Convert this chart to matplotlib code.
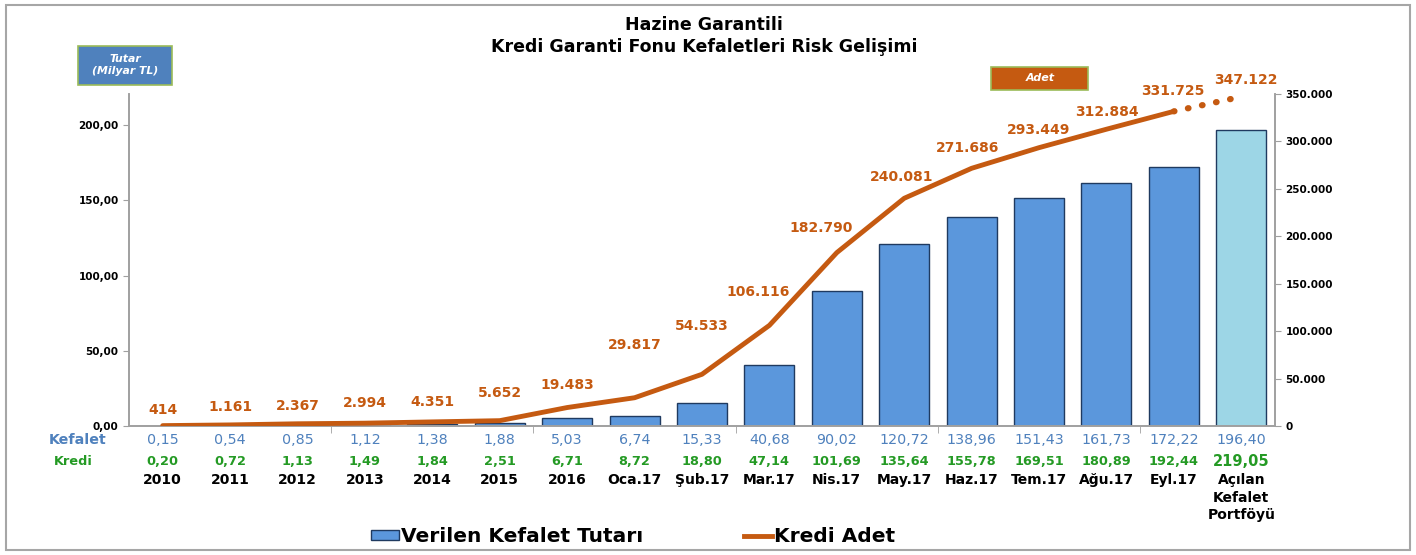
import matplotlib
matplotlib.use("Agg")
import matplotlib.pyplot as plt
from matplotlib.patches import Rectangle, Patch
from matplotlib.lines import Line2D
from matplotlib.ticker import FuncFormatter, FixedLocator
import matplotlib.transforms as mtransforms

plt.rcParams['font.family'] = ['DejaVu Sans']

# data
categories = ["2010", "2011", "2012", "2013", "2014", "2015", "2016", "Oca.17",
              "Şub.17", "Mar.17", "Nis.17", "May.17", "Haz.17", "Tem.17",
              "Ağu.17", "Eyl.17", "Açılan\nKefalet\nPortföyü"]
kefalet = [0.15, 0.54, 0.85, 1.12, 1.38, 1.88, 5.03, 6.74, 15.33, 40.68,
           90.02, 120.72, 138.96, 151.43, 161.73, 172.22, 196.40]
kredi = [0.20, 0.72, 1.13, 1.49, 1.84, 2.51, 6.71, 8.72, 18.80, 47.14,
         101.69, 135.64, 155.78, 169.51, 180.89, 192.44, 219.05]
kredi_adet = [414, 1161, 2367, 2994, 4351, 5652, 19483, 29817, 54533, 106116,
              182790, 240081, 271686, 293449, 312884, 331725, 347122]

# label offsets (points) for the Adet labels
label_dx = [0, 0, 0, 0, 0, 0, 0, 0, 0, -8, -11.5, -2, -3, 0, 0, -1, 3.5]
label_dy = [11, 13, 13, 14.5, 14.5, 20, 16, 38, 35, 24, 18, 15, 14.5, 12.7, 12.5, 15, 12]

BLUE = "#5B97DC"
CYAN = "#9DD6E6"
ORANGE = "#C55A11"
TXT_BLUE = "#4F81BD"
TXT_GREEN = "#249A24"

fig = plt.figure(figsize=(14.16, 5.55), dpi=100)
ax = fig.add_axes([0.0911, 0.2324, 0.8093, 0.5982])
ax2 = ax.twinx()

n = len(categories)
x = list(range(n))
colors = [BLUE] * (n - 1) + [CYAN]
ax.bar(x, kefalet, width=0.74, color=colors, edgecolor="#1F3A60", linewidth=1.0, zorder=2)

ax.set_xlim(-0.5, n - 0.5)
ax.set_ylim(0, 220.6)
ax.yaxis.set_major_locator(FixedLocator([0, 50, 100, 150, 200]))
ax.yaxis.set_major_formatter(FuncFormatter(lambda v, p: f"{v:.2f}".replace(".", ",")))
ax.set_xticks([])
ax.set_xticks([-0.5 + 3 * k for k in range(1, 6)], minor=True)
ax.tick_params(axis="x", which="minor", length=5, color="#A0A0A0")
ax.tick_params(axis="y", labelsize=7.5, length=4, color="#A0A0A0")
for lbl in ax.get_yticklabels():
    lbl.set_fontweight("bold")

ax2.plot(x[:-1], kredi_adet[:-1], color=ORANGE, linewidth=3.5, solid_capstyle="round", zorder=3)
ax2.plot(x[-2:], kredi_adet[-2:], color=ORANGE, linewidth=4.5,
         linestyle=(0, (0.1, 2.2)), dash_capstyle="round", zorder=3)
ax2.set_ylim(0, 350000)
ax2.yaxis.set_major_locator(FixedLocator(range(0, 350001, 50000)))
ax2.yaxis.set_major_formatter(FuncFormatter(lambda v, p: f"{int(v):,}".replace(",", ".")))
ax2.tick_params(axis="y", labelsize=7.5, length=4, color="#A0A0A0")
for lbl in ax2.get_yticklabels():
    lbl.set_fontweight("bold")

for a in (ax, ax2):
    a.spines["top"].set_visible(False)
    for s in ("left", "right", "bottom"):
        a.spines[s].set_color("#A0A0A0")
        a.spines[s].set_linewidth(1.2)

for i, v in enumerate(kredi_adet):
    ax2.annotate(f"{v:,}".replace(",", "."), (x[i], v), xytext=(label_dx[i], label_dy[i]),
                 textcoords="offset points", ha="center", va="center",
                 color=ORANGE, fontsize=10, fontweight="bold")

# value rows under the axis
trans = mtransforms.blended_transform_factory(ax.transData, fig.transFigure)
for i in range(n):
    ax.text(x[i], 0.207, f"{kefalet[i]:.2f}".replace(".", ","), transform=trans,
            ha="center", va="center", color=TXT_BLUE, fontsize=10.3)
    ax.text(x[i], 0.169, f"{kredi[i]:.2f}".replace(".", ","), transform=trans,
            ha="center", va="center", color=TXT_GREEN, fontsize=9.3 if i < n - 1 else 10.5,
            fontweight="bold")
    ax.text(x[i], 0.147, categories[i], transform=trans, ha="center", va="top",
            color="black", fontsize=10, fontweight="bold", linespacing=1.3)

fig.text(0.055, 0.207, "Kefalet", ha="center", va="center", color=TXT_BLUE,
         fontsize=10.3, fontweight="bold")
fig.text(0.0515, 0.169, "Kredi", ha="center", va="center", color=TXT_GREEN,
         fontsize=9.3, fontweight="bold")

# title
fig.text(0.497, 0.955, "Hazine Garantili", ha="center", va="center",
         fontsize=12.5, fontweight="bold")
fig.text(0.497, 0.915, "Kredi Garanti Fonu Kefaletleri Risk Gelişimi", ha="center",
         va="center", fontsize=12.5, fontweight="bold")

# axis name boxes
fig.add_artist(Rectangle((78 / 1416, 1 - 85 / 555), 94 / 1416, 39 / 555,
                         transform=fig.transFigure, facecolor="#4F81BD",
                         edgecolor="#9BBB59", linewidth=1.2))
fig.text(125 / 1416, 1 - 65 / 555, "Tutar\n(Milyar TL)", ha="center", va="center",
         color="white", fontsize=7.8, fontweight="bold", style="italic")
fig.add_artist(Rectangle((991 / 1416, 1 - 90 / 555), 97 / 1416, 23 / 555,
                         transform=fig.transFigure, facecolor=ORANGE,
                         edgecolor="#9BBB59", linewidth=1.2))
fig.text(1040 / 1416, 1 - 78 / 555, "Adet", ha="center", va="center",
         color="white", fontsize=8, fontweight="bold", style="italic")

# legend
handles = [Patch(facecolor=BLUE, edgecolor="#1F3A60"),
           Line2D([0], [0], color=ORANGE, linewidth=3.5)]
leg = fig.legend(handles, ["Verilen Kefalet Tutarı", "Kredi Adet"], loc="center",
                 bbox_to_anchor=(0.447, 0.033), ncol=2, frameon=False,
                 prop={"size": 14.5, "weight": "bold"},
                 handlelength=1.4, handleheight=0.45, handletextpad=0.1, columnspacing=5.0)

# outer frame
fig.add_artist(Rectangle((6 / 1416, 5 / 555), 1404 / 1416, 545 / 555,
                         transform=fig.transFigure, fill=False,
                         edgecolor="#A6A6A6", linewidth=1.5))

fig.savefig("out.png", dpi=100)
